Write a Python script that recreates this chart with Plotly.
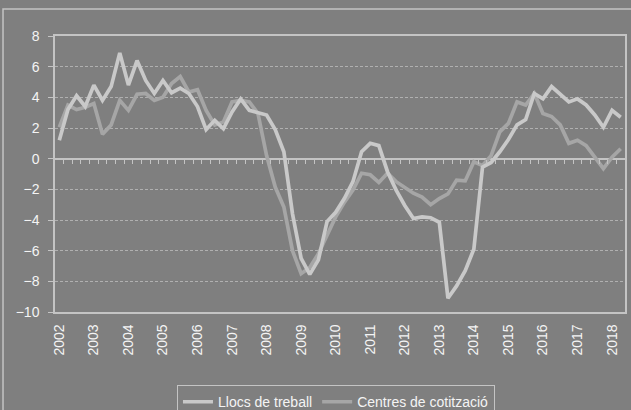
import plotly.graph_objects as go

# Quarterly series, 2002 T1 .. 2018 T2
years = [str(y) for y in range(2002, 2019)]
quarter_index = list(range(66))

llocs = [1.2, 3.2, 4.1, 3.4, 4.8, 3.8, 4.7, 6.9, 4.8, 6.4,
         5.1, 4.25, 5.1, 4.3, 4.6, 4.25, 3.4, 1.9, 2.5, 1.95,
         3.05, 3.9, 3.15, 3.0, 2.85, 1.9, 0.45, -3.6, -6.5, -7.55,
         -6.6, -4.1, -3.5, -2.6, -1.5, 0.45, 1.0, 0.85, -0.85, -2.05,
         -3.05, -3.9, -3.8, -3.85, -4.15, -9.1, -8.3, -7.3, -5.9, -0.55,
         -0.25, 0.45, 1.25, 2.2, 2.55, 4.25, 3.9, 4.7, 4.2, 3.7,
         3.9, 3.5, 2.85, 2.05, 3.15, 2.7]

centres = [2.05, 3.5, 3.2, 3.35, 3.6, 1.6, 2.2, 3.8, 3.15, 4.2,
           4.25, 3.8, 4.0, 4.9, 5.35, 4.35, 4.5, 3.15, 2.2, 2.4,
           3.7, 3.8, 3.7, 2.95, 0.2, -1.85, -3.15, -6.0, -7.5, -7.1,
           -6.2, -5.0, -3.8, -2.85, -2.05, -0.95, -1.05, -1.55, -0.95, -1.5,
           -1.85, -2.25, -2.5, -3.0, -2.6, -2.3, -1.4, -1.45, -0.2, -0.45,
           0.2, 1.75, 2.3, 3.7, 3.5, 4.25, 2.95, 2.75, 2.2, 1.0,
           1.2, 0.85, 0.1, -0.65, 0.1, 0.65]

BG = "#7f7f7f"
LIGHT = "#c9c9c9"
DARK = "#a6a6a6"
AXIS = "#c4c4c4"
GRID = "#b0b0b0"
TEXT = "#f4f4f4"
FONT = "Liberation Sans, Arial, sans-serif"

n = len(quarter_index)
xr = [-0.5, n - 0.5]

fig = go.Figure()
fig.add_trace(go.Scatter(x=quarter_index, y=centres, mode="lines",
                         name="Centres de cotització", legendrank=2,
                         line=dict(color=DARK, width=3.7)))
fig.add_trace(go.Scatter(x=quarter_index, y=llocs, mode="lines",
                         name="Llocs de treball", legendrank=1,
                         line=dict(color=LIGHT, width=3.7)))
# helper trace so the zero-line tick axis is drawn
fig.add_trace(go.Scatter(x=[], y=[], xaxis="x2", yaxis="y",
                         showlegend=False, hoverinfo="skip"))

fig.update_layout(
    width=631, height=410,
    margin=dict(l=55, r=6, t=36, b=98, autoexpand=False),
    paper_bgcolor=BG, plot_bgcolor=BG,
    font=dict(family=FONT, size=14, color=TEXT),
    xaxis=dict(
        range=xr, tickvals=[4 * k for k in range(len(years))], ticktext=years,
        tickangle=-90, ticks="", showgrid=False, zeroline=False,
        showline=True, linecolor=AXIS, linewidth=1.5, mirror=True,
        ticklabelstandoff=5, automargin=False,
        tickfont=dict(family=FONT, size=14, color=TEXT),
    ),
    xaxis2=dict(
        range=xr, overlaying="x", anchor="free", position=10 / 18,
        tickvals=[i + 0.5 for i in range(n - 1)], ticks="outside",
        ticklen=4, tickwidth=1, tickcolor=AXIS, showticklabels=False,
        showgrid=False, zeroline=False, showline=False, automargin=False,
    ),
    yaxis=dict(
        range=[-10, 8], dtick=2, tick0=0,
        showgrid=True, gridcolor=GRID, griddash="3px,2px", gridwidth=1,
        zeroline=True, zerolinecolor=AXIS, zerolinewidth=1.5,
        showline=True, linecolor=AXIS, linewidth=1.5, mirror=True,
        ticks="outside", ticklen=5, tickcolor=AXIS,
        ticklabelstandoff=6, automargin=False,
        tickfont=dict(family=FONT, size=14, color=TEXT),
    ),
    legend=dict(
        orientation="h", x=0.214, y=-0.265, xanchor="left", yanchor="top",
        bordercolor=AXIS, borderwidth=1, bgcolor=BG,
        font=dict(family=FONT, size=14, color=TEXT),
    ),
    shapes=[dict(type="rect", xref="paper", yref="paper",
                 x0=-0.0912, x1=1.03, y0=-0.6, y1=1.0978,
                 line=dict(color=AXIS, width=1.5), layer="below")],
    showlegend=True,
)

fig.write_html(
    "out.html",
    config={"displayModeBar": False},
    post_script="document.body.style.margin='0';document.body.style.background='" + BG + "';",
)
